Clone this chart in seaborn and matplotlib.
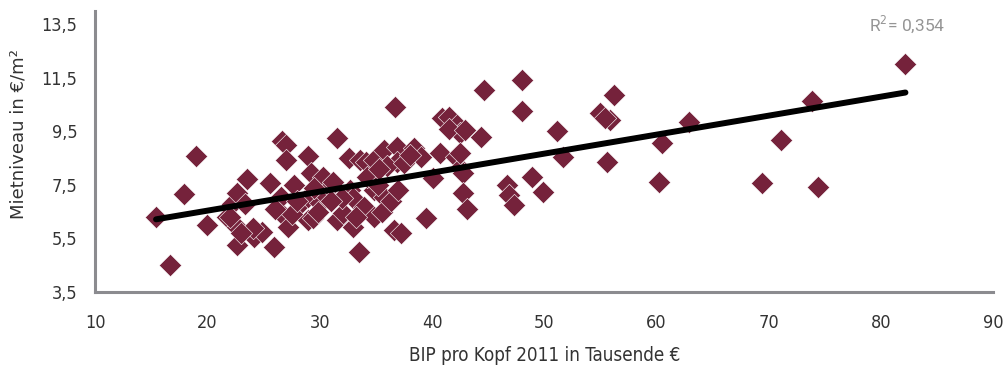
import matplotlib
matplotlib.use("Agg")
import matplotlib.pyplot as plt
import seaborn as sns
import numpy as np
import pandas as pd

# GDP per capita 2011 (thousand EUR) and rent level (EUR/m2)
bip = [15.4, 16.6, 17.9, 19.0, 19.9, 21.7, 22.2, 22.6, 22.6, 22.6,
       23.5, 24.1, 24.8, 25.6, 25.9, 26.5, 26.5, 26.6, 27.0, 27.0,
       27.2, 27.7, 28.3, 28.9, 28.9, 28.9, 29.2, 29.4, 30.0, 30.0,
       30.3, 30.6, 30.9, 31.5, 31.5, 32.1, 32.6, 32.7, 33.0, 33.0,
       33.5, 33.6, 33.9, 34.1, 34.8, 34.8, 34.8, 35.7, 35.7, 36.6,
       36.7, 36.9, 36.9, 37.2, 38.4, 39.0, 39.5, 40.1, 40.7, 40.9,
       41.5, 42.2, 42.5, 42.1, 42.5, 42.5, 42.8, 42.8, 43.1, 44.6,
       44.4, 46.7, 46.9, 47.3, 48.0, 48.0, 48.9, 49.9, 51.1, 51.7,
       55.0, 55.9, 56.2, 55.6, 60.2, 60.5, 62.9, 69.4, 71.1, 73.9,
       74.4, 82.2,
       24.0, 23.0, 27.5, 28.0, 29.5, 31.2, 32.0, 34.2, 35.2, 35.5,
       36.0, 36.3, 37.5, 35.3, 33.2, 26.0, 29.8, 31.0, 37.0, 38.0,
       23.3, 22.0, 41.5, 42.9, 55.4]
miete = [6.30, 4.50, 7.15, 8.57, 6.00, 6.30, 6.80, 7.18, 5.94, 5.25,
         7.72, 5.56, 5.75, 7.56, 5.19, 6.44, 7.06, 9.13, 9.00, 8.43,
         5.94, 7.49, 6.82, 8.57, 7.06, 6.19, 7.93, 6.25, 7.19, 6.82,
         7.80, 7.06, 7.43, 9.23, 6.19, 6.44, 8.49, 7.31, 7.00, 5.94,
         5.00, 8.43, 6.68, 8.36, 8.43, 7.31, 6.31, 8.80, 7.06, 5.81,
         10.41, 8.92, 8.36, 5.69, 8.86, 8.55, 6.25, 7.74, 8.67, 9.98,
         10.02, 9.73, 9.45, 8.55, 8.12, 8.67, 7.93, 7.18, 6.60, 11.04,
         9.27, 7.49, 7.12, 6.75, 11.41, 10.26, 7.80, 7.24, 9.52, 8.55,
         10.17, 9.92, 10.85, 8.36, 7.62, 9.05, 9.85, 7.56, 9.17, 10.64,
         7.43, 12.00,
         5.90, 5.70, 6.40, 6.90, 7.40, 7.60, 7.00, 7.80, 7.50, 6.50,
         8.20, 6.90, 8.30, 8.10, 6.30, 6.60, 6.50, 6.90, 7.30, 8.60,
         6.80, 6.30, 9.60, 9.55, 10.00]

x_ticks = [10, 20, 30, 40, 50, 60, 70, 80, 90]
y_ticks = [3.5, 5.5, 7.5, 9.5, 11.5, 13.5]
y_tick_labels = ["3,5", "5,5", "7,5", "9,5", "11,5", "13,5"]
r2_label = "R$^2$= 0,354"
x_label = "BIP pro Kopf 2011 in Tausende €"
y_label = "Mietniveau in €/m²"

df = pd.DataFrame({"bip": bip, "miete": miete})

sns.set_style("white")
plt.rcParams["font.family"] = ["DejaVu Sans"]
plt.rcParams["font.stretch"] = "condensed"

fig = plt.figure(figsize=(10.05, 3.67), dpi=100)
ax = fig.add_axes([0.095, 0.204, 0.893, 0.766])

maroon = "#75223b"
grey = "#8b8b8f"

sns.scatterplot(data=df, x="bip", y="miete", ax=ax, marker="D", s=130,
                color=maroon, edgecolor="white", linewidth=0.4, zorder=2)
sns.regplot(data=df, x="bip", y="miete", ax=ax, scatter=False, ci=None,
            truncate=True,
            line_kws=dict(color="black", lw=4.3, solid_capstyle="round", zorder=3))

ax.set_xlim(10, 90)
ax.set_ylim(3.5, 13.98)
ax.set_xticks(x_ticks)
ax.set_xticklabels([str(t) for t in x_ticks])
ax.set_yticks(y_ticks)
ax.set_yticklabels(y_tick_labels)

for side in ["top", "right"]:
    ax.spines[side].set_visible(False)
for side in ["left", "bottom"]:
    ax.spines[side].set_color(grey)
    ax.spines[side].set_linewidth(2.2)

ax.tick_params(axis="both", direction="out", length=7, width=1.6, color=grey,
               labelsize=13, labelcolor="#333333", pad=6)
ax.tick_params(axis="x", pad=9)

ax.set_xlabel(x_label, fontsize=13.5, color="#333333", labelpad=10)
ax.set_ylabel(y_label, fontsize=13, color="#333333", fontstretch="normal")
ax.yaxis.set_label_coords(-0.076, 0.562)

ax.text(0.947, 0.99, r2_label, transform=ax.transAxes, ha="right", va="top",
        fontsize=12.5, color="#959595", family=["Roboto", "DejaVu Sans"],
        fontstretch="normal")

fig.savefig("out.png", dpi=100)
